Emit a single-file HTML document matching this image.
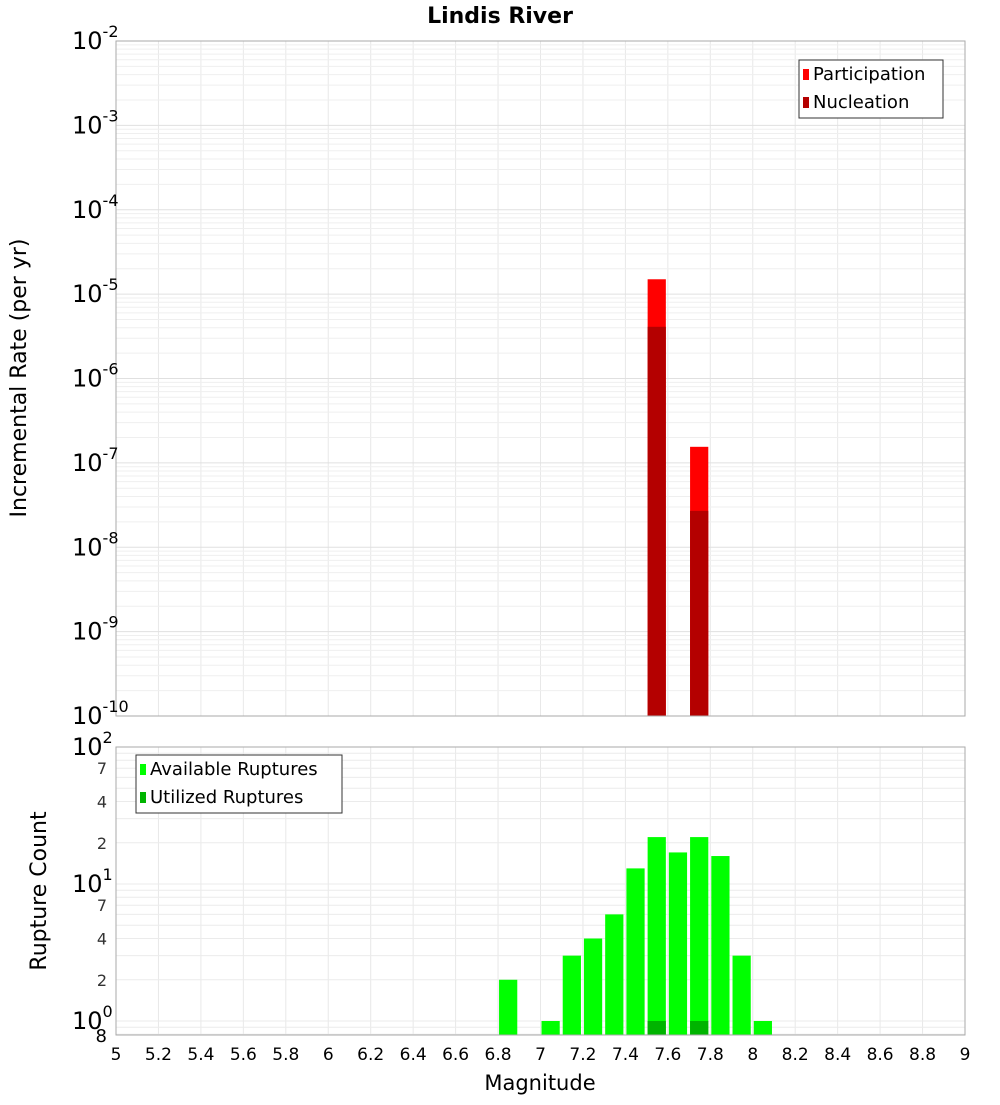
<!DOCTYPE html>
<html><head><meta charset="utf-8"><style>
body{margin:0;background:#fff;font-family:"Liberation Sans","DejaVu Sans",sans-serif}
svg text{font-family:"DejaVu Sans","Liberation Sans",sans-serif}
</style></head><body>
<svg id="c" width="1000" height="1100" xmlns="http://www.w3.org/2000/svg">
<text x="500" y="23" text-anchor="middle" font-size="22" font-weight="bold">Lindis River</text>
<text transform="translate(26,378) rotate(-90)" text-anchor="middle" font-size="22">Incremental Rate (per yr)</text>
<text transform="translate(46,891) rotate(-90)" text-anchor="middle" font-size="22">Rupture Count</text>
<text x="540" y="1090" text-anchor="middle" font-size="21">Magnitude</text>
<g id="g"></g>
</svg>
<script>
const bins=[6.8,6.9,7.0,7.1,7.2,7.3,7.4,7.5,7.6,7.7,7.8,7.9,8.0];
const available=[2,0,1,3,4,6,13,22,17,22,16,3,1];
const utilized=[0,0,0,0,0,0,0,1,0,1,0,0,0];
const rateBins=[7.5,7.7];
const participation=[1.5e-5,1.55e-7];
const nucleation=[4.1e-6,2.7e-8];
const xTicks=[5,5.2,5.4,5.6,5.8,6,6.2,6.4,6.6,6.8,7,7.2,7.4,7.6,7.8,8,8.2,8.4,8.6,8.8,9];
const NS="http://www.w3.org/2000/svg";
const g=document.getElementById('g');
const L=116,R=965;
const T1=41,B1=716,T2=747,B2=1035;
const x=v=>L+(v-5)/4*(R-L);
const yTop=v=>T1+(-2-Math.log10(v))/8*(B1-T1);
const dec2=137,y10=T2+dec2; // 10^2 at T2
const yBot=v=>T2+(2-Math.log10(v))*dec2;
function el(t,a,p){const e=document.createElementNS(NS,t);for(const k in a)e.setAttribute(k,a[k]);(p||g).appendChild(e);return e;}
function ln(x1,y1,x2,y2,c){return el('line',{x1,y1,x2,y2,stroke:c,'stroke-width':1});}
// grids
for(const t of xTicks){const gl=ln(x(t),T1,x(t),B1,'#e8e8e8');
 const gl2=ln(x(t),T2,x(t),B2,'#e8e8e8');}
for(let d=-10;d<-2;d++)for(let m=1;m<10;m++){const y=yTop(m*Math.pow(10,d));const gl=ln(L,y,R,y,m==1?'#e0e0e0':'#efefef');}
for(let d=-1;d<2;d++)for(let m=1;m<10;m++){const v=m*Math.pow(10,d);if(v<0.8)continue;const y=yBot(v);const gl=ln(L,y,R,y,'#ebebeb');}
// top bars
rateBins.forEach((b,i)=>{
 const x0=x(b)+1,w=x(b+0.1)-x(b)-3;
 const p=el('rect',{x:x0,y:yTop(participation[i]),width:w,height:B1-yTop(participation[i]),fill:'#ff0000'});
 
 const n=el('rect',{x:x0,y:yTop(nucleation[i]),width:w,height:B1-yTop(nucleation[i]),fill:'#b40000'});
 
});
// bottom bars
bins.forEach((b,i)=>{
 const x0=x(b)+1,w=x(b+0.1)-x(b)-3;
 if(available[i]>0){const a=el('rect',{x:x0,y:yBot(available[i]),width:w,height:B2-yBot(available[i]),fill:'#00ff00'});
 }
 if(utilized[i]>0){const u=el('rect',{x:x0,y:yBot(utilized[i]),width:w,height:B2-yBot(utilized[i]),fill:'#00b400'});
 }
});
// frames
const f1=el('rect',{x:L,y:T1,width:R-L,height:B1-T1,fill:'none',stroke:'#aaa'});
const f2=el('rect',{x:L,y:T2,width:R-L,height:B2-T2,fill:'none',stroke:'#aaa'});
// x tick labels
for(const t of xTicks){const tx=el('text',{x:x(t),y:1060,'text-anchor':'middle','font-size':17});tx.textContent=String(+t.toFixed(1));
 }
function pow(xp,y,exp,name){const t=el('text',{x:xp,y:y,'text-anchor':'end','font-size':24});
 
 t.appendChild(document.createTextNode('10'));const s=document.createElementNS(NS,'tspan');s.setAttribute('dy','-12');s.setAttribute('font-size','16');s.textContent=exp;t.appendChild(s);
 t.setAttribute('text-anchor','start');t.setAttribute('x',xp-42);}
for(let d=-10;d<=-2;d++)pow(114,yTop(Math.pow(10,d))+8,String(d),'top-y-tick-label');
for(let d=0;d<=2;d++)pow(114,yBot(Math.pow(10,d))+8,String(d),'bottom-y-tick-label');
for(let d=0;d<2;d++)for(const m of [2,4,7]){const t=el('text',{x:107,y:yBot(m*Math.pow(10,d))+6,'text-anchor':'end','font-size':16,fill:'#333'});t.textContent=m;
 }
const e8=el('text',{x:107,y:1042,'text-anchor':'end','font-size':18});e8.textContent='8';
// legends
function legend(x0,y0,w,items,name){const lg=el('g',{});
 el('rect',{x:x0,y:y0,width:w,height:items.length*28+2,fill:'#fff',stroke:'#333'},lg);
 items.forEach((it,i)=>{el('rect',{x:x0+4,y:y0+9+i*28,width:6,height:11,fill:it[1]},lg);
 const t=el('text',{x:x0+14,y:y0+20+i*28,'font-size':18},lg);t.textContent=it[0];});}
legend(799,60,144,[['Participation','#ff0000'],['Nucleation','#b40000']],'top-legend');
legend(136,755,206,[['Available Ruptures','#00ff00'],['Utilized Ruptures','#00b400']],'bottom-legend');
</script>
</body></html>
